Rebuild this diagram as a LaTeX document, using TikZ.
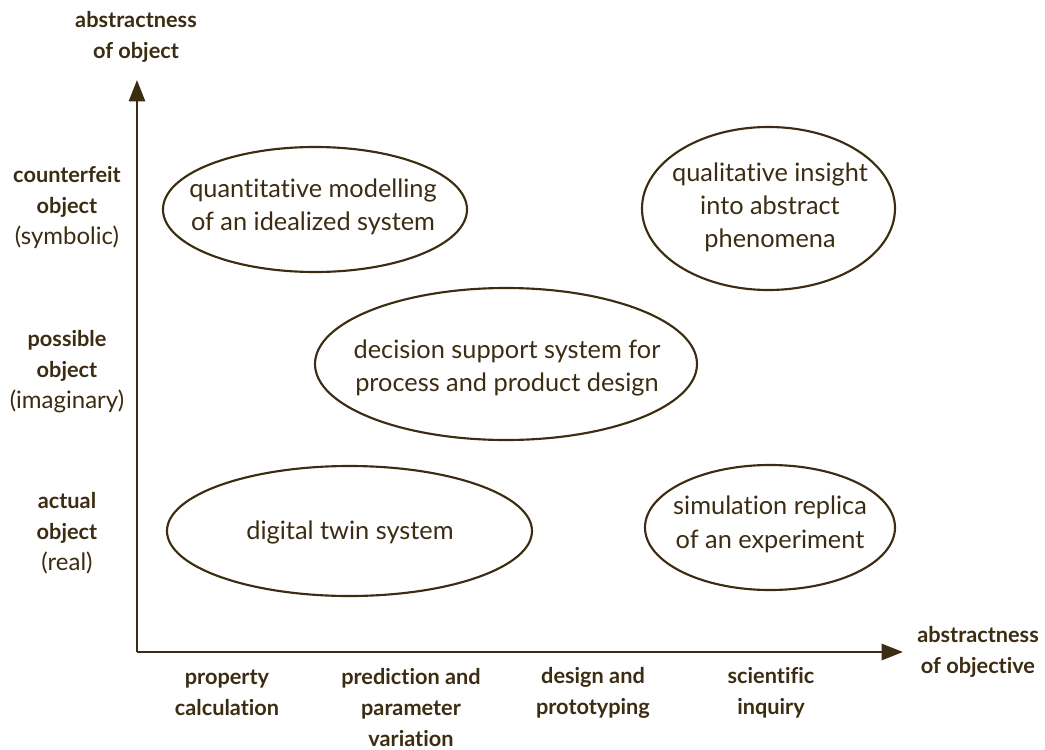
\documentclass[tikz,border=0pt]{standalone}
\usepackage{fontspec}
\setmainfont{Lato}[Ligatures=NoCommon]
\usetikzlibrary{arrows.meta,shapes.geometric}
\definecolor{ink}{HTML}{3B2C12}
\begin{document}
\begin{tikzpicture}[x=0.75pt,y=-0.75pt,
  every node/.style={text=ink},
  axis/.style={draw=ink,line width=2.2pt,-{Triangle[length=16pt,width=12pt]}},
  oval/.style={ellipse,draw=ink,line width=1.6pt,inner sep=0pt,outer sep=0pt},
  body/.style={align=center,inner sep=0pt,font=\fontsize{19}{25}\selectfont},
  lab/.style={align=center,font=\fontsize{16.3}{23.25}\selectfont}]
\useasboundingbox (0,0) rectangle (1045,749);
\coordinate (o) at (137,652);
\coordinate (ytip) at (137,80);
\coordinate (xtip) at (903,652);
\draw[axis] (o) -- (ytip);
\draw[axis] (o) -- (xtip);
\node[lab] (yaxis) at (136,37) {\textbf{abstractness}\\\textbf{of object}};
\node[lab] (xaxis) at (978,652) {\textbf{abstractness}\\\textbf{of objective}};
\node[lab] (y1) at (67,207) {\textbf{counterfeit}\\\textbf{object}\\{\fontsize{18}{23.25}\selectfont(symbolic)}};
\node[lab] (y2) at (67,372) {\textbf{possible}\\\textbf{object}\\{\fontsize{18}{23.25}\selectfont(imaginary)}};
\node[lab] (y3) at (67,533) {\textbf{actual}\\\textbf{object}\\{\fontsize{18}{23.25}\selectfont(real)}};
\node[lab] (x1) at (227,693) {\textbf{property}\\\textbf{calculation}};
\node[lab] (x2) at (411,707.5) {\textbf{prediction and}\\\textbf{parameter}\\\textbf{variation}};
\node[lab] (x3) at (593,693) {\textbf{design and}\\\textbf{prototyping}};
\node[lab] (x4) at (771,693) {\textbf{scientific}\\\textbf{inquiry}};
\node[oval,minimum width=228pt,minimum height=93.75pt] (e1) at (315,209.5) {};
\node[oval,minimum width=189.75pt,minimum height=122.25pt] (e2) at (768.5,208.5) {};
\node[oval,minimum width=286.5pt,minimum height=114pt] (e3) at (506,364) {};
\node[oval,minimum width=273.75pt,minimum height=97.5pt] (e4) at (349.5,531) {};
\node[oval,minimum width=187.5pt,minimum height=93.75pt] (e5) at (770,527.5) {};
\node[body] (t1) at (313,207) {quantitative modelling\\of an idealized system};
\node[body] (t2) at (770,207.5) {qualitative insight\\into abstract\\phenomena};
\node[body] (t3) at (507,368) {decision support system for\\process and product design};
\node[body] (t4) at (350,532) {digital twin system};
\node[body] (t5) at (770,524.5) {simulation replica\\of an experiment};
\end{tikzpicture}
\end{document}
